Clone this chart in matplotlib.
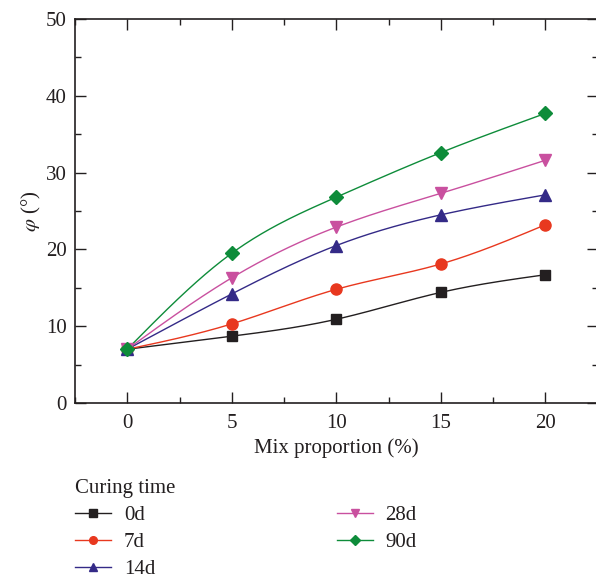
import numpy as np
import matplotlib
matplotlib.use("Agg")
import matplotlib.pyplot as plt
from matplotlib.ticker import MultipleLocator

mix = [0, 5, 10, 15, 20]
labels = ["0d", "7d", "14d", "28d", "90d"]
phi_0d = [7.0, 8.7, 10.9, 14.4, 16.7]
phi_7d = [7.0, 10.3, 14.8, 18.1, 23.2]
phi_14d = [7.0, 14.2, 20.5, 24.5, 27.1]
phi_28d = [7.0, 16.3, 22.9, 27.3, 31.6]
phi_90d = [7.0, 19.5, 26.8, 32.6, 37.7]

colors = ["#231f20", "#e8381f", "#342a87", "#c9509f", "#0e8c3a"]
markers = ["s", "o", "^", "v", "D"]
msizes = [7, 8, 9, 9, 7.5]


def natural_spline(x, y, n=200):
    # plain natural cubic spline, only used to draw the smooth connecting line
    x = np.asarray(x, float)
    y = np.asarray(y, float)
    k = len(x)
    h = np.diff(x)
    A = np.zeros((k, k))
    b = np.zeros(k)
    A[0, 0] = 1
    A[-1, -1] = 1
    for i in range(1, k - 1):
        A[i, i - 1] = h[i - 1]
        A[i, i] = 2 * (h[i - 1] + h[i])
        A[i, i + 1] = h[i]
        b[i] = 3 * ((y[i + 1] - y[i]) / h[i] - (y[i] - y[i - 1]) / h[i - 1])
    c = np.linalg.solve(A, b)
    xs = np.linspace(x[0], x[-1], n)
    ys = np.empty_like(xs)
    for j, xv in enumerate(xs):
        i = min(np.searchsorted(x, xv, side="right") - 1, k - 2)
        dx = xv - x[i]
        bi = (y[i + 1] - y[i]) / h[i] - h[i] * (2 * c[i] + c[i + 1]) / 3
        di = (c[i + 1] - c[i]) / (3 * h[i])
        ys[j] = y[i] + bi * dx + c[i] * dx ** 2 + di * dx ** 3
    return xs, ys


plt.rcParams["font.family"] = ["Liberation Serif", "DejaVu Serif"]
plt.rcParams["mathtext.fontset"] = "stix"
fs = 15

fig = plt.figure(figsize=(5.96, 5.82), dpi=100)
ax = fig.add_axes([75 / 596, 1 - 403 / 582, (597.5 - 75) / 596, (403 - 19) / 582])

series = [phi_0d, phi_7d, phi_14d, phi_28d, phi_90d]
handles = []
for ys, lab, col, mk, ms in zip(series, labels, colors, markers, msizes):
    sx, sy = natural_spline(mix, ys)
    ax.plot(sx, sy, color=col, lw=1.0, zorder=2)
    ax.plot(mix, ys, ls="none", marker=mk, ms=ms, color=col, zorder=3)
    h, = ax.plot([], [], color=col, lw=1.0, marker=mk, ms=5.5, label=lab)
    handles.append(h)

ax.set_xlim(-2.5, 22.5)
ax.set_ylim(0, 50)
ax.xaxis.set_major_locator(MultipleLocator(5))
ax.xaxis.set_minor_locator(MultipleLocator(2.5))
ax.yaxis.set_major_locator(MultipleLocator(10))
ax.yaxis.set_minor_locator(MultipleLocator(5))
ax.tick_params(which="both", direction="in", top=True, right=True, labelsize=fs,
               colors="#231f20", width=1.0)
ax.tick_params(which="major", length=8)
ax.tick_params(which="minor", length=4)
ax.tick_params(axis="x", which="major", pad=8)
ax.tick_params(axis="y", which="major", pad=6)
for s in ax.spines.values():
    s.set_linewidth(1.2)
    s.set_color("#231f20")

ax.set_xlabel("Mix proportion (%)", fontsize=fs, color="#231f20", labelpad=4)
ax.set_ylabel(r"$\varphi$ (°)", fontsize=fs, color="#231f20", labelpad=2)

leg = fig.legend(handles=handles, ncol=2, loc="upper left",
                 bbox_to_anchor=(75 / 596, 1 - 479 / 582), frameon=False,
                 borderaxespad=0, borderpad=0,
                 title="Curing time", title_fontsize=fs, fontsize=fs,
                 alignment="left", handlelength=1.75, columnspacing=8.7,
                 labelspacing=0.36, handletextpad=0.6)
for t in leg.get_texts():
    t.set_color("#231f20")
leg.get_title().set_color("#231f20")

fig.savefig("out.png", dpi=100)
